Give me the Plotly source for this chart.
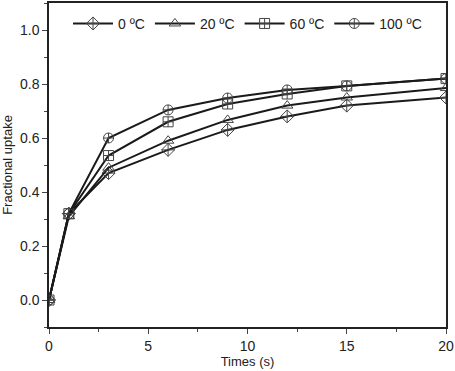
import plotly.graph_objects as go

times = [0, 1, 3, 6, 9, 12, 15, 20]
uptake_0 = [0.0, 0.32, 0.47, 0.556, 0.63, 0.68, 0.72, 0.75]
uptake_20 = [0.0, 0.31, 0.49, 0.59, 0.667, 0.72, 0.75, 0.785]
uptake_60 = [0.0, 0.32, 0.535, 0.66, 0.726, 0.763, 0.793, 0.82]
uptake_100 = [0.0, 0.32, 0.60, 0.704, 0.748, 0.778, 0.793, 0.82]
series_names = ["0 ºC", "20 ºC", "60 ºC", "100 ºC"]
symbols = ["diamond-cross-open", "triangle-up-open", "square-cross-open", "circle-cross-open"]

fig = go.Figure()
for name, ys, sym in zip(series_names, [uptake_0, uptake_20, uptake_60, uptake_100], symbols):
    fig.add_trace(go.Scatter(
        x=times, y=ys, name=name, mode="lines+markers",
        line=dict(color="#1a1a1a", width=2),
        marker=dict(symbol=sym, size=10, color="#444444", line=dict(width=1, color="#444444")),
    ))

fig.update_layout(
    width=455, height=371,
    margin=dict(l=49, r=9, t=3, b=44, autoexpand=False),
    paper_bgcolor="white", plot_bgcolor="white",
    font=dict(family="Liberation Sans, Arial, sans-serif", size=12, color="#222222"),
    showlegend=True,
    legend=dict(orientation="h", x=0.5, xanchor="center", y=0.985, yanchor="top",
                bgcolor="rgba(0,0,0,0)", font=dict(size=14), itemwidth=40,
                tracegroupgap=0),
    xaxis=dict(range=[0, 20], tickvals=[0, 5, 10, 15, 20], ticks="outside", ticklen=5,
               showline=True, mirror=True, linecolor="#222222", linewidth=1.5,
               showgrid=False, zeroline=False, automargin=False,
               minor=dict(ticks="outside", ticklen=3, dtick=2.5, tick0=0),
               title=dict(text="Times (s)", standoff=2, font=dict(size=13)), tickfont=dict(size=14)),
    yaxis=dict(range=[-0.1, 1.1], tickvals=[0, 0.2, 0.4, 0.6, 0.8, 1.0], tickformat=".1f",
               ticks="outside", ticklen=5,
               showline=True, mirror=True, linecolor="#222222", linewidth=1.5,
               showgrid=False, zeroline=False, automargin=False,
               minor=dict(ticks="outside", ticklen=3, dtick=0.1, tick0=0),
               title=dict(text="Fractional uptake", standoff=4, font=dict(size=13)), tickfont=dict(size=14)),
)

fig.write_html("out.html", config={"displayModeBar": False},
               post_script="document.body.style.margin='0';document.body.style.overflow='hidden';")
